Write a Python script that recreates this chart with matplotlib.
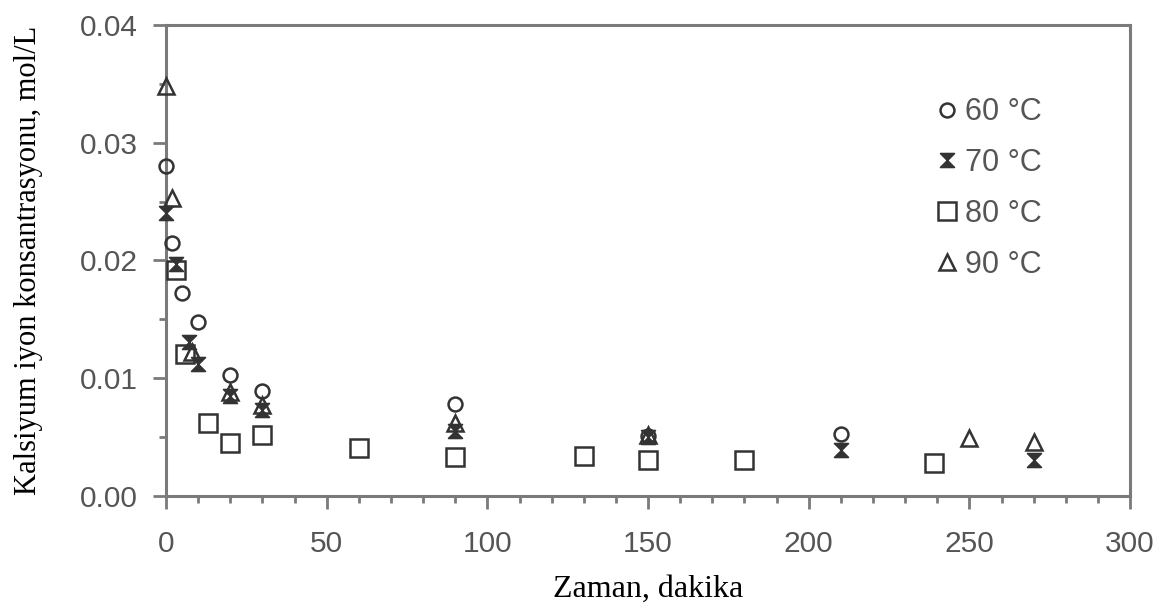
import numpy as np
import matplotlib.pyplot as plt
from matplotlib.path import Path
from matplotlib.ticker import MultipleLocator, FormatStrFormatter

# Zaman (dakika) ve kalsiyum iyon konsantrasyonu (mol/L)
t_60 = [0, 2, 5, 10, 20, 30, 90, 150, 210]
c_60 = [0.0280, 0.0215, 0.0172, 0.0148, 0.0103, 0.0089, 0.0078, 0.0051, 0.0053]

t_70 = [0, 3, 7, 10, 20, 30, 90, 150, 210, 270]
c_70 = [0.0240, 0.0197, 0.0131, 0.0112, 0.0085, 0.0073, 0.0055, 0.0050, 0.0039, 0.0031]

t_80 = [3, 6, 13, 20, 30, 60, 90, 130, 150, 180, 239]
c_80 = [0.0192, 0.0121, 0.0062, 0.0045, 0.0052, 0.0041, 0.0033, 0.0034, 0.0031, 0.0031, 0.0028]

t_90 = [0, 2, 8, 20, 30, 90, 150, 250, 270]
c_90 = [0.0348, 0.0253, 0.0122, 0.0088, 0.0077, 0.0062, 0.0052, 0.0049, 0.0046]

labels = ["60 °C", "70 °C", "80 °C", "90 °C"]

# hourglass marker for the 70 C series
hourglass = Path([(-1, 1), (1, 1), (-1, -1), (1, -1), (-1, 1)],
                 [Path.MOVETO, Path.LINETO, Path.LINETO, Path.LINETO, Path.CLOSEPOLY])

edge = "#333333"
axis_grey = "#7a7a7a"
text_grey = "#555555"

fig = plt.figure(figsize=(11.62, 6.08), dpi=100)
ax = fig.add_axes([0.1429, 0.1842, 0.8296, 0.7747])

style = dict(linestyle="none", mec=edge, clip_on=False, zorder=3)
ax.plot(t_60, c_60, marker="o", ms=10, mfc="none", mew=1.8, label=labels[0], **style)
ax.plot(t_70, c_70, marker=hourglass, ms=10, mfc=edge, mew=1.2, label=labels[1], **style)
ax.plot(t_80, c_80, marker="s", ms=13, mfc="none", mew=1.8, label=labels[2], **style)
ax.plot(t_90, c_90, marker="^", ms=11, mfc="none", mew=1.8, label=labels[3], **style)

ax.set_xlim(0, 300)
ax.set_ylim(0, 0.04)
ax.xaxis.set_major_locator(MultipleLocator(50))
ax.xaxis.set_minor_locator(MultipleLocator(10))
ax.yaxis.set_major_locator(MultipleLocator(0.01))
ax.yaxis.set_minor_locator(MultipleLocator(0.005))
ax.yaxis.set_major_formatter(FormatStrFormatter("%.2f"))

for s in ax.spines.values():
    s.set_color(axis_grey)
    s.set_linewidth(2.2)

ax.tick_params(which="both", direction="out", color=axis_grey, width=2,
               labelcolor=text_grey, labelsize=21.5, top=False, right=False)
ax.tick_params(which="major", length=9.5)
ax.tick_params(which="minor", length=5)
ax.tick_params(axis="y", which="major", pad=11)
ax.tick_params(axis="x", which="major", pad=15)
for lab in ax.get_xticklabels() + ax.get_yticklabels():
    lab.set_fontfamily("Liberation Sans")

ax.set_xlabel("Zaman, dakika", family="Liberation Serif", fontsize=23, color="black", labelpad=12)
ax.set_ylabel("Kalsiyum iyon konsantrasyonu, mol/L", family="Liberation Serif", fontsize=22,
              color="black", labelpad=26)

leg = ax.legend(loc="upper right", bbox_to_anchor=(0.937, 0.905), frameon=False,
                handlelength=0.5, handletextpad=0.35, labelspacing=0.68,
                prop={"family": "Liberation Sans", "size": 22})
for txt in leg.get_texts():
    txt.set_color(text_grey)

fig.savefig("out.png", dpi=100)
